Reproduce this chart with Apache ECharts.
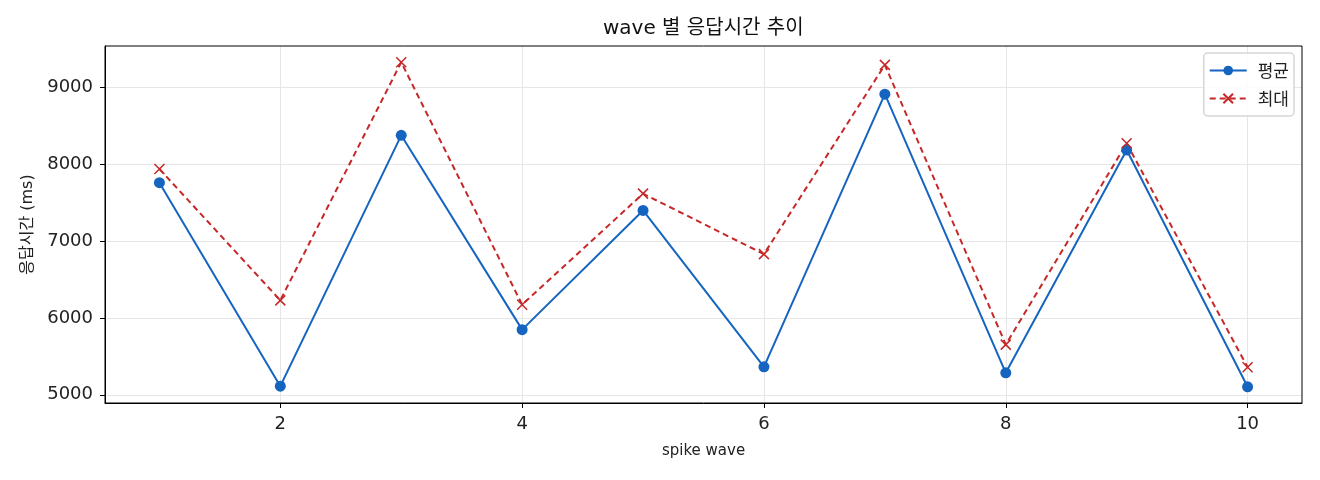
<!DOCTYPE html>
<html lang="ko">
<head>
<meta charset="UTF-8">
<title>wave 별 응답시간 추이</title>
<script type="text/javascript" src="https://cdn.jsdelivr.net/npm/echarts@6/dist/echarts.min.js"></script>
<style type="text/css">
	html, body { margin:0; padding:0; background:#fff; }
	#chart { width:1320px; height:480px; }
</style>
</head>
<body>
<div id="chart"></div>
<script type="text/javascript">
	// 데이터
	var waves = [1, 2, 3, 4, 5, 6, 7, 8, 9, 10];
	var avgMs = [7761, 5112, 8377, 5848, 7399, 5364, 8913, 5286, 8186, 5104];
	var maxMs = [7939, 6229, 9329, 6173, 7618, 6831, 9294, 5653, 8273, 5359];
	var xTicks = [2, 4, 6, 8, 10];
	var yTicks = [5000, 6000, 7000, 8000, 9000];

	var FONT = '"DejaVu Sans", "Noto Sans CJK KR", sans-serif';
	var BLUE = '#1565c0';
	var RED = '#c62828';

	function pairs(xs, ys) {
		return xs.map(function (x, i) { return [x, ys[i]]; });
	}
	function plain(v) { return String(v); }

	var chart = echarts.init(document.getElementById('chart'), null, {renderer: 'canvas'});
	var option = {
		animation: false,
		backgroundColor: '#fff',
		title: {
			text: 'wave 별 응답시간 추이',
			// 플롯 영역 가운데(x≈703) 기준
			left: 603,
			top: 19,
			padding: 0,
			textStyle: {fontFamily: FONT, fontSize: 20, fontWeight: 'normal', color: '#111'}
		},
		legend: {
			right: 26,
			top: 53,
			orient: 'vertical',
			itemWidth: 37,
			itemHeight: 12,
			itemGap: 11,
			padding: [9, 5, 9, 5],
			borderColor: '#d6d6d6',
			borderWidth: 1.5,
			borderRadius: 4,
			backgroundColor: 'rgba(255,255,255,0.85)',
			textStyle: {fontFamily: '"Noto Sans CJK KR", sans-serif', fontSize: 17, color: '#222', padding: [0, 0, 0, 6]},
			data: ['평균', '최대']
		},
		grid: {left: 105, right: 18, top: 46, bottom: 77, containLabel: false},
		xAxis: {
			type: 'value',
			min: 0.55,
			max: 10.45,
			name: 'spike wave',
			nameLocation: 'middle',
			nameGap: 41,
			nameTextStyle: {fontFamily: FONT, fontSize: 15, color: '#222'},
			axisLine: {onZero: false, lineStyle: {color: '#000', width: 1}},
			axisTick: {show: true, length: 5, customValues: xTicks, lineStyle: {color: '#000'}},
			axisLabel: {customValues: xTicks, margin: 12, formatter: plain, fontFamily: FONT, fontSize: 18, color: '#222'},
			splitLine: {show: true, lineStyle: {color: '#e6e6e6', width: 1}}
		},
		yAxis: {
			type: 'value',
			min: 4893,
			max: 9540,
			name: '응답시간 (ms)',
			nameLocation: 'middle',
			nameGap: 69,
			nameTextStyle: {fontFamily: FONT, fontSize: 16, color: '#222'},
			axisLine: {show: true, onZero: false, lineStyle: {color: '#000', width: 1}},
			axisTick: {show: true, length: 5, customValues: yTicks, lineStyle: {color: '#000'}},
			axisLabel: {customValues: yTicks, margin: 12, formatter: plain, fontFamily: FONT, fontSize: 18, color: '#222'},
			splitLine: {show: true, lineStyle: {color: '#e6e6e6', width: 1}}
		},
		series: [
			{
				name: '평균',
				type: 'line',
				data: pairs(waves, avgMs),
				symbol: 'circle',
				symbolSize: 11,
				itemStyle: {color: BLUE},
				lineStyle: {color: BLUE, width: 2}
			},
			{
				name: '최대',
				type: 'line',
				data: pairs(waves, maxMs),
				symbol: 'path://M0,0L10,10M10,0L0,10',
				symbolSize: 10,
				itemStyle: {color: 'none', borderColor: RED, borderWidth: 1.5},
				lineStyle: {color: RED, width: 2, type: [6, 4]}
			}
		]
	};
	chart.setOption(option, true);
	// 오른쪽/위쪽 테두리
	chart.setOption({
		graphic: [{
			type: 'rect',
			shape: {x: 105, y: 46, width: 1320 - 105 - 18, height: 480 - 46 - 77},
			style: {fill: 'none', stroke: '#000', lineWidth: 1},
			silent: true,
			z: 100
		}]
	});
</script>
</body>
</html>
